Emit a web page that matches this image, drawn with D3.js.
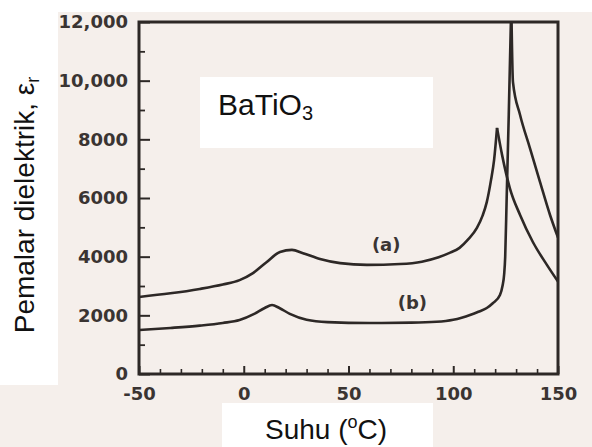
<!DOCTYPE html>
<html>
<head>
<meta charset="utf-8">
<script src="https://cdn.jsdelivr.net/npm/d3@7"></script>
<style>
  body { margin: 0; background: #ffffff; }
  svg { display: block; }
</style>
</head>
<body>
<div class="chart"></div>
<script>
// curve (a): temperature (C) and relative permittivity
var tempA = [-50, -35, -21, -10, -2, 4.4, 11, 17.3, 23, 28.3, 36.4, 46, 58.8, 74.6, 85, 93, 98, 103, 107, 111.3, 114, 116, 118, 119.5, 120.9,
  123.3, 127, 131.9, 138, 144.7, 150];
var epsA = [2625, 2750, 2900, 3050, 3200, 3440, 3820, 4160, 4230, 4120, 3920, 3780, 3720, 3750, 3830, 3980, 4120, 4300, 4580, 4980, 5400, 5860, 6600, 7300, 8390,
  7470, 6340, 5420, 4500, 3720, 3150];
var peakA = 24;

// curve (b) - its peak runs off the top of the frame
var tempB = [-50, -35, -21, -10, -2, 5, 10, 13.5, 17, 22, 30, 40, 60, 80, 92, 100, 104, 108, 112, 116, 119, 122.3, 123.5, 124.3, 124.8, 125.5, 126.5, 127.7,
  128.5, 131.9, 136.6, 141.4, 146.2, 150];
var epsB = [1500, 1570, 1650, 1740, 1840, 2050, 2250, 2350, 2250, 2050, 1850, 1770, 1740, 1750, 1780, 1850, 1920, 2010, 2120, 2250, 2420, 2690, 3000, 3400, 4000, 6000, 8850, 12600,
  9950, 8830, 7700, 6550, 5420, 4650];
var peakB = 27;

var yMajor = [0, 2000, 4000, 6000, 8000, 10000, 12000];
var yTickLabels = ["0", "2000", "4000", "6000", "8000", "10,000", "12,000"];
var xMajor = [-50, 0, 50, 100, 150];
var xTickLabels = ["-50", "0", "50", "100", "150"];

var svgWidth = 592;
var svgHeight = 447;
var plot = { left: 139, right: 558, top: 22, bottom: 374 };

var svg = d3.select(".chart")
  .append("svg")
  .attr("width", svgWidth)
  .attr("height", svgHeight);

// scanned paper background
svg.append("rect")
  .attr("width", svgWidth)
  .attr("height", svgHeight)
  .attr("fill", "#f5efeb");

// white patches pasted over the scan
svg.append("rect").attr("x", 0).attr("y", 0).attr("width", svgWidth).attr("height", 12).attr("fill", "#fff");
svg.append("rect").attr("x", 0).attr("y", 0).attr("width", 58).attr("height", 385).attr("fill", "#fff");

svg.append("clipPath")
  .attr("id", "plot-clip")
  .append("rect")
  .attr("x", plot.left)
  .attr("y", plot.top)
  .attr("width", plot.right - plot.left)
  .attr("height", plot.bottom - plot.top);

var x = d3.scaleLinear().domain([-50, 150]).range([plot.left, plot.right]);
var y = d3.scaleLinear().domain([0, 12000]).range([plot.bottom, plot.top]);

var ink = "#2d2826";

// minor ticks
svg.append("g")
  .attr("transform", `translate(${plot.left},0)`)
  .call(d3.axisLeft(y).tickValues(d3.range(1000, 12000, 2000)).tickSize(-6).tickFormat(""))
  .call(g => g.select(".domain").remove())
  .call(g => g.selectAll("line").attr("stroke", ink).attr("stroke-width", 1.8));

svg.append("g")
  .attr("transform", `translate(0,${plot.bottom})`)
  .call(d3.axisBottom(x).tickValues(d3.range(-40, 150, 10).filter(v => v % 50 !== 0)).tickSize(-5).tickFormat(""))
  .call(g => g.select(".domain").remove())
  .call(g => g.selectAll("line").attr("stroke", ink).attr("stroke-width", 1.6));

// major ticks + labels
svg.append("g")
  .attr("transform", `translate(${plot.left},0)`)
  .call(d3.axisLeft(y).tickValues(yMajor).tickSize(-11).tickPadding(11)
    .tickFormat((d, i) => yTickLabels[i]))
  .call(g => g.select(".domain").remove())
  .call(g => g.selectAll("line").attr("stroke", ink).attr("stroke-width", 2))
  .call(g => g.selectAll("text")
    .attr("fill", "#3a3432")
    .attr("font-family", "DejaVu Sans")
    .attr("font-weight", "bold")
    .attr("font-size", 18));

svg.append("g")
  .attr("transform", `translate(0,${plot.bottom})`)
  .call(d3.axisBottom(x).tickValues(xMajor).tickSize(-8).tickPadding(13)
    .tickFormat((d, i) => xTickLabels[i]))
  .call(g => g.select(".domain").remove())
  .call(g => g.selectAll("line").attr("stroke", ink).attr("stroke-width", 2))
  .call(g => g.selectAll("text")
    .attr("fill", "#3a3432")
    .attr("font-family", "DejaVu Sans")
    .attr("font-weight", "bold")
    .attr("font-size", 18));

var line = d3.line()
  .x(d => x(d[0]))
  .y(d => y(d[1]))
  .curve(d3.curveMonotoneX);

var curves = svg.append("g").attr("clip-path", "url(#plot-clip)");

// draw rising and falling parts separately so the peaks stay sharp
function drawCurve(temps, eps, peak) {
  var pts = temps.map((t, i) => [t, eps[i]]);
  [pts.slice(0, peak + 1), pts.slice(peak)].forEach(function(part) {
    curves.append("path")
      .datum(part)
      .attr("d", line)
      .attr("fill", "none")
      .attr("stroke", ink)
      .attr("stroke-width", 2.6)
      .attr("stroke-linejoin", "round");
  });
}
drawCurve(tempA, epsA, peakA);
drawCurve(tempB, epsB, peakB);

// frame
svg.append("rect")
  .attr("x", plot.left)
  .attr("y", plot.top)
  .attr("width", plot.right - plot.left)
  .attr("height", plot.bottom - plot.top)
  .attr("fill", "none")
  .attr("stroke", ink)
  .attr("stroke-width", 3);

// curve labels
svg.append("text")
  .attr("x", x(68))
  .attr("y", y(4180))
  .attr("text-anchor", "middle")
  .attr("font-family", "DejaVu Sans")
  .attr("font-weight", "bold")
  .attr("font-size", 18)
  .attr("fill", "#3a3432")
  .text("(a)");

svg.append("text")
  .attr("x", x(80.5))
  .attr("y", y(2200))
  .attr("text-anchor", "middle")
  .attr("font-family", "DejaVu Sans")
  .attr("font-weight", "bold")
  .attr("font-size", 18)
  .attr("fill", "#3a3432")
  .text("(b)");

// BaTiO3 box
svg.append("rect").attr("x", 200).attr("y", 77).attr("width", 233).attr("height", 71).attr("fill", "#fff");
var bt = svg.append("text")
  .attr("x", 218)
  .attr("y", 115)
  .attr("font-family", "Liberation Sans")
  .attr("font-size", 30)
  .attr("fill", "#111");
bt.append("tspan").text("BaTiO");
bt.append("tspan").attr("font-size", 20).attr("dy", 5).text("3");

// x title box
svg.append("rect").attr("x", 222).attr("y", 403).attr("width", 211).attr("height", 44).attr("fill", "#fff");
var xt = svg.append("text")
  .attr("x", 326)
  .attr("y", 439)
  .attr("text-anchor", "middle")
  .attr("font-family", "Liberation Sans")
  .attr("font-size", 28)
  .attr("fill", "#111");
xt.append("tspan").text("Suhu (");
xt.append("tspan").attr("font-size", 18).attr("dy", -11).text("o");
xt.append("tspan").attr("dy", 11).text("C)");

// y title
var yt = svg.append("text")
  .attr("transform", "translate(34,205) rotate(-90)")
  .attr("text-anchor", "middle")
  .attr("font-family", "Liberation Sans")
  .attr("font-size", 28)
  .attr("fill", "#111");
yt.append("tspan").text("Pemalar dielektrik, ε");
yt.append("tspan").attr("font-size", 18).attr("dy", 5).text("r");
</script>
</body>
</html>
